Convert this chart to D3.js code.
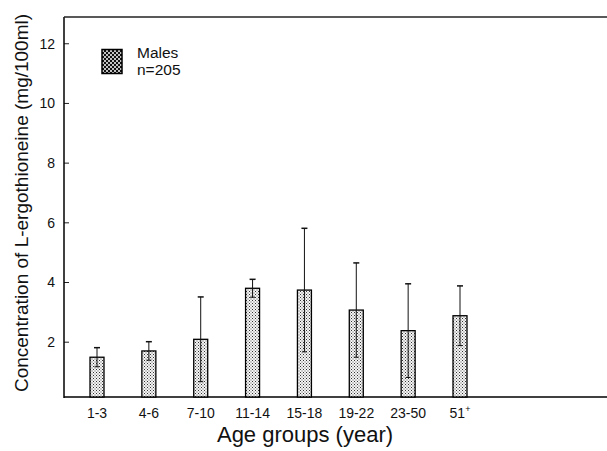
<!DOCTYPE html>
<html><head><meta charset="utf-8">
<script src="https://cdn.jsdelivr.net/npm/d3@7"></script>
<style>body{margin:0;background:#fff}svg{display:block;font-family:"Liberation Sans",Arial,sans-serif}</style>
</head><body>
<script>
const categories = ["1-3","4-6","7-10","11-14","15-18","19-22","23-50","51+"];
const means = [1.48, 1.69, 2.08, 3.79, 3.73, 3.06, 2.37, 2.87];
const sds = [0.32, 0.31, 1.42, 0.30, 2.07, 1.58, 1.57, 1.00];
const yTicks = [2, 4, 6, 8, 10, 12];

(function(){
const W = 607, H = 451;
const svg = d3.select("body").append("svg").attr("width", W).attr("height", H);
const defs = svg.append("defs");
const pat = defs.append("pattern").attr("id","dots").attr("patternUnits","userSpaceOnUse").attr("width",3).attr("height",3);
pat.append("rect").attr("width",3).attr("height",3).attr("fill","#f4f4f4");
pat.append("rect").attr("x",0).attr("y",0).attr("width",1).attr("height",1).attr("fill","#333");
pat.append("rect").attr("x",1.5).attr("y",1.5).attr("width",1).attr("height",1).attr("fill","#555");
const pat2 = defs.append("pattern").attr("id","dots2").attr("patternUnits","userSpaceOnUse").attr("width",4).attr("height",4);
pat2.append("rect").attr("width",4).attr("height",4).attr("fill","#111");
pat2.append("circle").attr("cx",1).attr("cy",1).attr("r",1).attr("fill","#fff");
pat2.append("circle").attr("cx",3).attr("cy",3).attr("r",1).attr("fill","#fff");

const mL = 64, mR = 607, mT = 17, mB = 397;
const y = d3.scaleLinear().domain([0.147, 12.88]).range([mB, mT]);
const x = d3.scalePoint().domain(categories).range([97, 460]);
const bw = 14;

const yAxis = d3.axisRight(y).tickValues(yTicks).tickSize(5).tickFormat(d3.format("d"));
const gy = svg.append("g").attr("transform",`translate(${mL},0)`).call(yAxis);
gy.select(".domain").remove();
gy.selectAll(".tick text").attr("x",-9).attr("text-anchor","end").attr("dy","0.35em").style("font-size","14px").attr("fill","#111");
gy.selectAll(".tick line").attr("stroke","#222");

svg.append("line").attr("x1",mL).attr("x2",mL).attr("y1",mT).attr("y2",mB+1).attr("stroke","#000").attr("stroke-width",1.5);
svg.append("line").attr("x1",mL).attr("x2",mR).attr("y1",mT).attr("y2",mT).attr("stroke","#222").attr("stroke-width",1.5);
svg.append("line").attr("x1",mL).attr("x2",mR).attr("y1",mB).attr("y2",mB).attr("stroke","#000").attr("stroke-width",1.5);

svg.append("g").selectAll("rect").data(categories).join("rect")
  .attr("x", d => x(d) - bw/2)
  .attr("y", (d,i) => y(means[i]))
  .attr("width", bw)
  .attr("height", (d,i) => mB - y(means[i]))
  .attr("fill","url(#dots)").attr("stroke","#000").attr("stroke-width",1.3);

const eg = svg.append("g").attr("stroke","#111").attr("stroke-width",1);
categories.forEach((c,i) => {
  const cx = x(c);
  const hi = y(means[i] + sds[i]), lo = y(means[i] - sds[i]);
  eg.append("line").attr("x1",cx).attr("x2",cx).attr("y1",hi).attr("y2",lo);
  eg.append("line").attr("x1",cx-3).attr("x2",cx+3).attr("y1",hi).attr("y2",hi).attr("stroke-width",1.5);
  eg.append("line").attr("x1",cx-2.5).attr("x2",cx+2.5).attr("y1",lo).attr("y2",lo);
});

const xl = svg.append("g").selectAll("text").data(categories).join("text")
  .attr("x", d => x(d)).attr("y", 418).attr("text-anchor","middle")
  .style("font-size","14px").attr("fill","#111");
xl.each(function(d){
  const t = d3.select(this);
  if (d.endsWith("+")) {
    t.text(d.slice(0,-1));
    t.append("tspan").attr("dy","-6").style("font-size","9px").text("+");
  } else t.text(d);
});

svg.append("text").attr("transform","translate(28,203) rotate(-90)").attr("text-anchor","middle")
  .style("font-size","19px").attr("fill","#111").text("Concentration of L-ergothioneine (mg/100ml)");
svg.append("text").attr("x",305).attr("y",442).attr("text-anchor","middle")
  .style("font-size","22px").attr("fill","#111").text("Age groups (year)");

svg.append("rect").attr("x",102).attr("y",49.5).attr("width",20).attr("height",24)
  .attr("fill","url(#dots2)").attr("stroke","#000").attr("stroke-width",1.5);
svg.append("text").attr("x",137).attr("y",58).style("font-size","15.5px").attr("fill","#111").text("Males");
svg.append("text").attr("x",137).attr("y",75).style("font-size","15.5px").attr("fill","#111").text("n=205");
})();
</script>
</body></html>
